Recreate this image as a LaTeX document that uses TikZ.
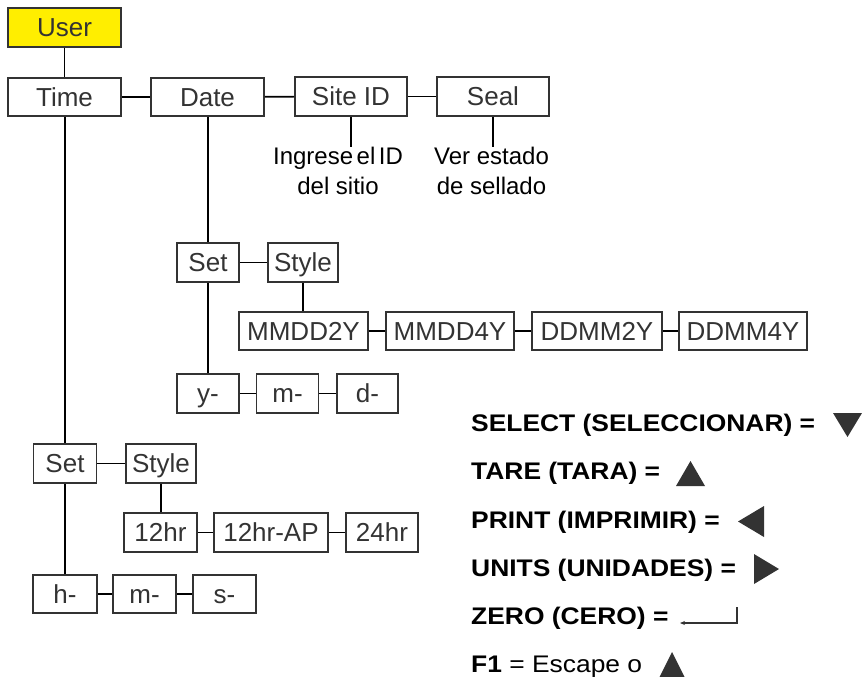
\documentclass[tikz,border=0pt]{standalone}
\usepackage{fontspec}
\setmainfont{Liberation Sans}
\newfontfamily\legfont[FakeStretch=1.1]{Liberation Sans}
\usetikzlibrary{arrows.meta}
\definecolor{ink}{HTML}{333333}
\definecolor{userY}{HTML}{FFEE00}
\tikzset{
  bx/.style={draw=ink, line width=1.6pt, fill=white, text=ink, inner sep=0pt,
    font=\fontsize{26}{30}\selectfont, text height=18.6pt, text depth=0pt},
  sz/.style 2 args={minimum width=#1pt, minimum height=#2pt},
  conn/.style={draw=black, line width=1.6pt},
  note/.style={text=black, align=center, inner sep=0pt, font=\fontsize{24}{30}\selectfont},
  leg/.style={text=black, inner sep=0pt, anchor=base west, font=\legfont\fontsize{24}{27}\selectfont\bfseries},
  tri/.style={fill=ink, draw=none}
}
\begin{document}
\begin{tikzpicture}[x=1pt,y=-1pt]
\useasboundingbox (0,0) rectangle (862,677);
% top row
\node[bx, fill=userY, sz={113}{39}] (User) at (64.5,27.5) {User};
\node[bx, sz={113}{38}] (Time) at (64.5,97) {Time};
\node[bx, sz={113}{38}] (Date) at (207.5,97) {Date};
\node[bx, sz={112}{39}] (Site) at (351,96.5) {Site ID};
\node[bx, sz={112}{39}] (Seal) at (493,96.5) {Seal};
\node[note, anchor=north] (SiteTxt) at (338,147) {Ingrese\hspace{3.5pt}el\hspace{3.5pt}ID\\del sitio};
\node[note, anchor=north] (SealTxt) at (491.5,147) {Ver estado\\de sellado};
% date branch
\node[bx, sz={62}{39}] (SetD) at (208,262.5) {Set};
\node[bx, sz={70}{39}] (StyleD) at (303,262.5) {Style};
\node[bx, sz={129}{38}] (MM2) at (303.5,331) {MMDD2Y};
\node[bx, sz={128}{38}] (MM4) at (450,331) {MMDD4Y};
\node[bx, sz={130}{38}] (DD2) at (597,331) {DDMM2Y};
\node[bx, sz={128}{38}] (DD4) at (743,331) {DDMM4Y};
\node[bx, sz={62}{39}] (yD) at (208,393.5) {y-};
\node[bx, sz={62}{39}] (mD) at (287.5,393.5) {m-};
\node[bx, sz={61}{39}] (dD) at (367.5,393.5) {d-};
% time branch
\node[bx, sz={63}{39}] (SetT) at (65,463.5) {Set};
\node[bx, sz={70}{39}] (StyleT) at (161,463.5) {Style};
\node[bx, sz={73}{39}] (h12) at (160.5,532.5) {12hr};
\node[bx, sz={114}{39}] (h12AP) at (271,532.5) {12hr-AP};
\node[bx, sz={72}{39}] (h24) at (382,532.5) {24hr};
\node[bx, sz={64}{38}] (hT) at (65,594) {h-};
\node[bx, sz={63}{38}] (mT) at (144.5,594) {m-};
\node[bx, sz={63}{38}] (sT) at (224.5,594) {s-};
% connectors
\draw[conn] (User) -- (Time);
\draw[conn] (Time) -- (Date);
\draw[conn] (Date) -- (Site);
\draw[conn] (Site) -- (Seal);
\draw[conn] (Site) -- (Site |- SiteTxt.north);
\draw[conn] (Seal) -- (Seal |- SealTxt.north);
\draw[conn] (Date.south -| SetD) -- (SetD);
\draw[conn] (SetD) -- (yD);
\draw[conn] (SetD) -- (StyleD);
\draw[conn] (StyleD) -- (StyleD |- MM2.north);
\draw[conn] (MM2) -- (MM4);
\draw[conn] (MM4) -- (DD2);
\draw[conn] (DD2) -- (DD4);
\draw[conn] (yD) -- (mD);
\draw[conn] (mD) -- (dD);
\draw[conn] (Time.south -| SetT) -- (SetT);
\draw[conn] (SetT) -- (hT);
\draw[conn] (SetT) -- (StyleT);
\draw[conn] (StyleT) -- (StyleT |- h12.north);
\draw[conn] (h12) -- (h12AP);
\draw[conn] (h12AP) -- (h24);
\draw[conn] (hT) -- (mT);
\draw[conn] (mT) -- (sT);
% legend
\node[leg] (L1) at (471,431) {SELECT (SELECCIONAR) =};
\node[leg] (L2) at (471,479) {TARE (TARA) =};
\node[leg] (L3) at (471,528) {PRINT (IMPRIMIR) =};
\node[leg] (L4) at (471,576.5) {UNITS (UNIDADES) =};
\node[leg] (L5) at (471,624.5) {ZERO (CERO) =};
\node[leg] (L6) at (471,672.5) {F1 \mdseries= Escape o};
\fill[tri] (833,413) -- (862,413) -- (847.5,437) -- cycle;
\fill[tri] (676,486) -- (705,486) -- (690.5,461) -- cycle;
\fill[tri] (764,506) -- (764,537) -- (738,521.5) -- cycle;
\fill[tri] (754,554) -- (754,584) -- (779,569) -- cycle;
\coordinate (Z1) at (737,607);
\coordinate (Z2) at (737,623);
\coordinate (Z3) at (680,623);
\draw[draw=ink, line width=1.1pt, -{Stealth[length=5pt,width=4pt]}] (Z1) -- (Z2) -- (Z3);
\fill[tri] (657,682) -- (687,682) -- (672,652) -- cycle;
\end{tikzpicture}
\end{document}
